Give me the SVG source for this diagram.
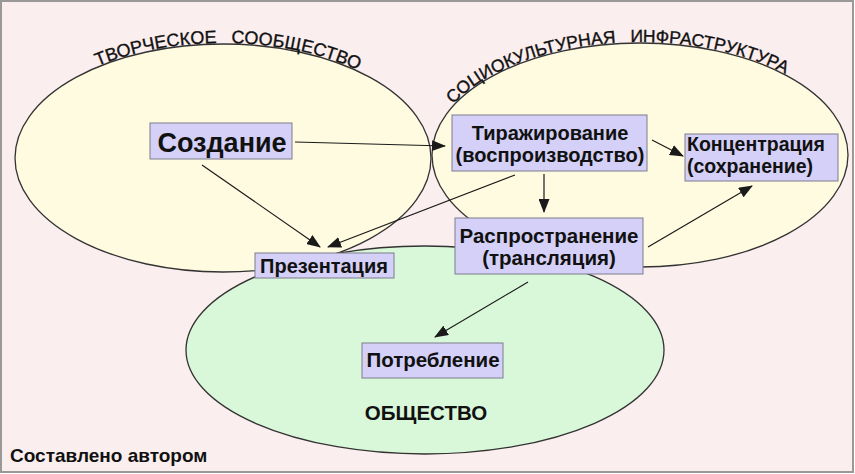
<svg xmlns="http://www.w3.org/2000/svg" width="855" height="474" viewBox="0 0 855 474">
<style>
text{font-family:"Liberation Sans",Arial,sans-serif;fill:#111}
.b{font-weight:bold}
.box{fill:#d4d0f7;stroke:#7c7c8c;stroke-width:1}
.ell{stroke:#333;stroke-width:1.3}
.yel{fill:#fffbe0}
.grn{fill:#d9f7d9}
.arc{font-size:17.5px;stroke:#111;stroke-width:0.35}
.ar{stroke:#1a1a1a;stroke-width:1.2;fill:none;marker-end:url(#ah)}
</style>
<defs>
<marker id="ah" markerUnits="userSpaceOnUse" markerWidth="14" markerHeight="11" refX="13" refY="5.5" orient="auto" viewBox="0 0 14 11"><path d="M0,0 L14,5.5 L0,11 z" fill="#1a1a1a"/></marker>
<path id="arcL" d="M 14,158 A 209,115 0 0 1 432,158"/>
<path id="arcR" d="M 431,155 A 209,113 0 0 1 849,155"/>
</defs>
<rect x="1" y="1" width="852" height="471" fill="#fbeeee" stroke="#999" stroke-width="2"/>
<g id="creative-community">
<ellipse class="ell yel" cx="223" cy="158" rx="208" ry="114"/>
<text class="arc" style="font-size:18px" xml:space="preserve"><textPath href="#arcL" startOffset="51%" text-anchor="middle">ТВОРЧЕСКОЕ   СООБЩЕСТВО</textPath></text>
</g>
<g id="sociocultural-infrastructure">
<ellipse class="ell yel" cx="640" cy="155" rx="208" ry="112"/>
<text class="arc" xml:space="preserve"><textPath href="#arcR" startOffset="45%" text-anchor="middle">СОЦИОКУЛЬТУРНАЯ   ИНФРАСТРУКТУРА</textPath></text>
</g>
<g id="society">
<ellipse class="ell grn" cx="425" cy="350" rx="239" ry="104"/>
<text class="b" x="426" y="420" font-size="20.5" text-anchor="middle">ОБЩЕСТВО</text>
</g>
<g id="connectors">
<line class="ar" x1="295" y1="142" x2="445" y2="146"/>
<line class="ar" x1="202" y1="165" x2="320" y2="247"/>
<line class="ar" x1="515" y1="175" x2="328" y2="247"/>
<line class="ar" x1="544" y1="174" x2="544" y2="212"/>
<line class="ar" x1="652" y1="140" x2="683" y2="156"/>
<line class="ar" x1="648" y1="247" x2="752" y2="186"/>
<line class="ar" x1="528" y1="282" x2="435" y2="337"/>
</g>
<g id="sozdanie">
<rect class="box" x="150" y="123" width="142" height="36"/>
<text class="b" x="222" y="152" font-size="27" text-anchor="middle">Создание</text>
</g>
<g id="prezentaciya">
<rect class="box" x="255" y="253" width="139" height="25"/>
<text class="b" x="324" y="273" font-size="20" text-anchor="middle">Презентация</text>
</g>
<g id="tirazhirovanie">
<rect class="box" x="452" y="115" width="195" height="56"/>
<text class="b" x="550" y="140" font-size="20" text-anchor="middle">Тиражирование</text>
<text class="b" x="550" y="162" font-size="20" text-anchor="middle">(воспроизводство)</text>
</g>
<g id="koncentraciya">
<rect class="box" x="685" y="134" width="153" height="47"/>
<text class="b" x="687" y="151" font-size="19.5">Концентрация</text>
<text class="b" x="687" y="173" font-size="19.5">(сохранение)</text>
</g>
<g id="rasprostranenie">
<rect class="box" x="455" y="218" width="188" height="56"/>
<text class="b" x="549" y="243" font-size="20.5" text-anchor="middle">Распространение</text>
<text class="b" x="549" y="265" font-size="20.5" text-anchor="middle">(трансляция)</text>
</g>
<g id="potreblenie">
<rect class="box" x="362" y="343" width="141" height="35"/>
<text class="b" x="433" y="367" font-size="20.5" text-anchor="middle">Потребление</text>
</g>
<text class="b" x="10" y="462" font-size="19">Составлено автором</text>
</svg>
